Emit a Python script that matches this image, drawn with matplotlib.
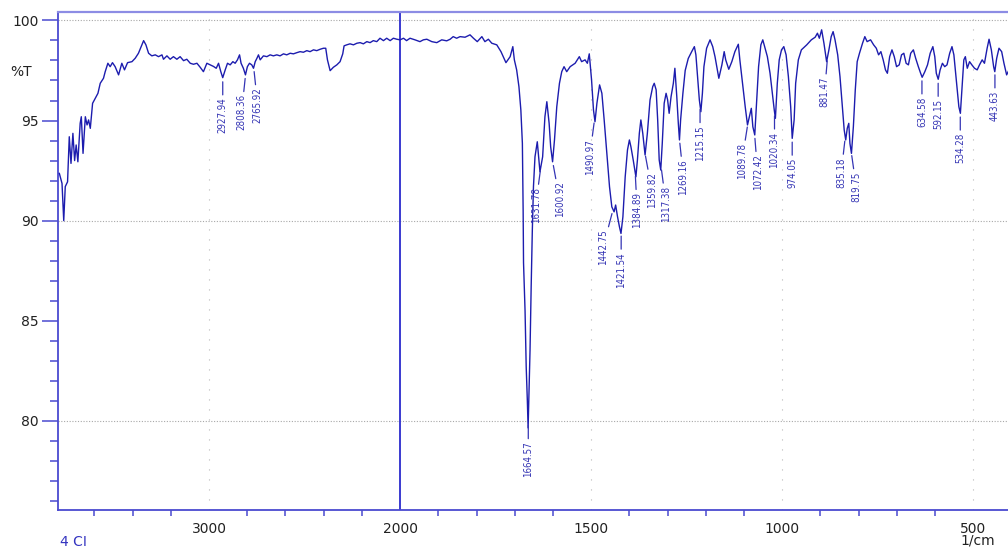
import numpy as np
import matplotlib
matplotlib.use("Agg")
import matplotlib.pyplot as plt

# spectrum: wavenumber (1/cm) and %T
wn = [3783, 3769, 3760, 3752, 3740, 3731, 3722, 3712, 3703, 3695, 3686, 3674, 3668, 3659,
      3647, 3638, 3630, 3621, 3609, 3595, 3581, 3569, 3552, 3543, 3529, 3517, 3505, 3491,
      3473, 3456, 3442, 3426, 3403, 3386, 3369, 3355, 3342, 3330, 3316, 3299, 3281, 3264,
      3246, 3238, 3220, 3203, 3186, 3168, 3151, 3133, 3116, 3098, 3081, 3063, 3046, 3029,
      3011, 2994, 2976, 2962, 2950, 2938, 2928, 2915, 2903, 2889, 2875, 2863, 2851, 2840,
      2832, 2820, 2809, 2799, 2788, 2776, 2767, 2758, 2749, 2741, 2732, 2715, 2697, 2680,
      2663, 2645, 2628, 2610, 2593, 2575, 2558, 2540, 2523, 2506, 2488, 2471, 2453, 2436,
      2418, 2401, 2389, 2380, 2366, 2349, 2331, 2314, 2300, 2293, 2279, 2262, 2244, 2226,
      2209, 2192, 2174, 2157, 2140, 2122, 2105, 2087, 2070, 2052, 2035, 2017, 2000,
      1991, 1983, 1974, 1961, 1948, 1939, 1930, 1917, 1904, 1891, 1878, 1869, 1861, 1852,
      1843, 1830, 1817, 1808, 1798, 1786, 1778, 1769, 1760, 1747, 1736, 1723, 1712, 1705,
      1701, 1695, 1689, 1684, 1680, 1678, 1677, 1673, 1670, 1667, 1665, 1662, 1660, 1657,
      1654, 1651, 1647, 1641, 1634, 1627, 1621, 1616, 1610, 1606, 1601, 1596, 1590, 1583,
      1577, 1571, 1564, 1555, 1542, 1531, 1525, 1516, 1510, 1505, 1499, 1494, 1490, 1485,
      1478, 1472, 1466, 1459, 1452, 1446, 1440, 1436, 1431, 1426, 1422, 1417, 1411, 1405,
      1400, 1396, 1390, 1383, 1379, 1374, 1370, 1365, 1359, 1353, 1346, 1339, 1335, 1330,
      1326, 1322, 1318, 1314, 1309, 1304, 1300, 1296, 1291, 1285, 1281, 1276, 1272, 1269,
      1266, 1260, 1254, 1246, 1237, 1230, 1226, 1221, 1217, 1213, 1209, 1205, 1198, 1189,
      1182, 1176, 1170, 1166, 1158, 1152, 1148, 1140, 1132, 1124, 1115, 1111, 1104, 1097,
      1091, 1086, 1081, 1077, 1072, 1067, 1062, 1056, 1051, 1045, 1039, 1032, 1026, 1021,
      1018, 1013, 1008, 1002, 996, 990, 984, 978, 974, 969, 965, 958, 950, 936, 924, 914,
      908, 903, 897, 891, 884, 878, 872, 867, 862, 855, 849, 842, 838, 834, 830, 826, 823,
      819, 814, 809, 804, 798, 790, 784, 778, 769, 761, 754, 748, 742, 736, 730, 725, 719,
      713, 707, 701, 694, 688, 682, 676, 670, 664, 657, 651, 644, 638, 634, 627, 620, 613,
      606, 601, 597, 592, 587, 581, 575, 569, 562, 556, 551, 544, 538, 534, 530, 525, 521,
      516, 510, 504, 497, 490, 484, 477, 471, 464, 459, 453, 447, 444, 439, 433, 426, 420,
      413, 405]
trans = [92.36, 91.86, 90.0, 91.7, 91.94, 94.19, 92.86, 94.36, 93.0, 93.78, 92.94, 94.86, 95.19, 93.36,
         95.19, 94.78, 95.03, 94.61, 95.86, 96.11, 96.36, 96.86, 97.11, 97.44, 97.86, 97.69, 97.89, 97.69,
         97.28, 97.86, 97.53, 97.89, 97.94, 98.11, 98.36, 98.69, 98.99, 98.78, 98.36, 98.23, 98.28, 98.19,
         98.28, 98.06, 98.23, 98.06, 98.19, 98.06, 98.19, 97.99, 98.06, 97.86, 97.81, 97.86, 97.66, 97.44,
         97.86, 97.78, 97.7, 97.61, 97.86, 97.44, 97.14, 97.53, 97.86, 97.78, 97.94, 97.86, 98.03, 98.28,
         97.86, 97.61, 97.28, 97.69, 97.86, 97.78, 97.61, 97.94, 98.11, 98.28, 98.03, 98.23, 98.19, 98.28,
         98.23, 98.28, 98.23, 98.33, 98.28, 98.36, 98.33, 98.39, 98.44, 98.41, 98.49, 98.44, 98.53, 98.49,
         98.56, 98.61, 98.61, 98.03, 97.49, 97.66, 97.78, 97.94, 98.33, 98.73, 98.78, 98.83, 98.78, 98.86,
         98.89, 98.83, 98.94, 98.89, 98.99, 98.94, 99.11, 98.99, 99.11, 98.99, 99.11, 99.06, 99.03,
         99.11, 98.99, 99.11, 99.03, 98.94, 99.03, 99.06, 98.94, 98.89, 99.03, 98.98, 99.06, 99.19, 99.11,
         99.19, 99.16, 99.28, 99.11, 98.94, 99.19, 98.94, 99.06, 98.86, 98.78, 98.44, 97.89, 98.19, 98.69,
         98.03, 97.53, 96.69, 95.53, 93.86, 90.5, 87.9, 85.5, 82.7, 81.0, 79.65, 81.9, 83.5, 86.7,
         89.5, 91.7, 93.19, 93.94, 92.44, 93.19, 95.19, 95.94, 94.86, 93.69, 92.94, 94.03, 95.69, 96.86,
         97.44, 97.69, 97.44, 97.69, 97.86, 98.19, 97.94, 98.03, 97.86, 98.33, 97.03, 95.53, 94.94, 95.86,
         96.78, 96.36, 95.03, 93.36, 91.69, 90.69, 90.44, 90.78, 90.19, 89.69, 89.36, 90.19, 92.19, 93.53,
         94.03, 93.69, 93.03, 92.19, 93.03, 94.36, 95.03, 94.36, 93.28, 94.36, 96.03, 96.69, 96.86, 96.53,
         95.03, 93.03, 92.53, 93.86, 95.86, 96.36, 96.03, 95.36, 96.19, 96.86, 97.61, 96.19, 94.86, 94.03,
         95.03, 96.36, 97.5, 98.1, 98.44, 98.69, 98.28, 97.03, 96.03, 95.44, 96.36, 97.69, 98.61, 99.03,
         98.69, 98.19, 97.53, 97.11, 97.78, 98.44, 98.03, 97.56, 97.94, 98.44, 98.81, 98.03, 96.86, 95.69,
         94.78, 95.19, 95.61, 94.69, 94.28, 96.03, 97.69, 98.78, 99.03, 98.61, 98.19, 97.36, 96.36, 95.53,
         95.11, 96.86, 98.03, 98.53, 98.69, 98.28, 97.19, 95.69, 94.11, 95.03, 96.86, 98.03, 98.53, 98.78, 99.03, 99.16,
         99.36, 99.11, 99.53, 98.86, 97.94, 98.53, 99.19, 99.44, 99.03, 98.28, 97.19, 95.53, 94.53, 94.03, 94.61, 94.86, 93.86,
         93.36, 94.69, 96.53, 97.94, 98.36, 98.86, 99.19, 98.94, 99.03, 98.78, 98.61, 98.28, 98.44, 98.03, 97.53, 97.36, 98.19,
         98.53, 98.19, 97.69, 97.78, 98.28, 98.36, 97.86, 97.78, 98.36, 98.53, 98.11, 97.69, 97.36, 97.16, 97.44, 97.78, 98.36,
         98.69, 98.19, 97.36, 97.06, 97.53, 97.86, 97.69, 97.78, 98.36, 98.69, 98.28, 96.86, 95.69, 95.36, 96.53, 98.03, 98.19,
         97.61, 97.94, 97.78, 97.61, 97.53, 97.78, 98.03, 97.86, 98.61, 99.06, 98.53, 97.69, 97.44, 98.11, 98.61, 98.44, 97.86,
         97.28, 97.6]

peak_labels = ["2927.94", "2808.36", "2765.92", "1664.57", "1631.78", "1600.92", "1490.97",
               "1442.75", "1421.54", "1384.89", "1359.82", "1317.38", "1269.16", "1215.15",
               "1089.78", "1072.42", "1020.34", "974.05", "881.47", "835.18", "819.75",
               "634.58", "592.15", "534.28", "443.63"]

xtick_vals = [3000, 2000, 1500, 1000, 500]
ytick_vals = [80, 85, 90, 95, 100]

# horizontal nudges of some labels (pixels)
label_dx = {"2808.36": -4, "2765.92": 4, "1631.78": -5, "1600.92": 7, "1490.97": -5,
            "1442.75": -10, "1384.89": 2, "1359.82": 7, "1317.38": 5, "1269.16": 4,
            "1089.78": -6, "1072.42": 3, "881.47": -3, "835.18": -4, "819.75": 5}

blue = "#1c1cae"
axis_blue = "#4a4ad0"
label_blue = "#3434b4"


# above 2000 1/cm the axis is compressed by half
def fwd(x):
    x = np.asarray(x, dtype=float)
    return np.where(x > 2000, 2000 + (x - 2000) * 0.5, x)


def inv(u):
    u = np.asarray(u, dtype=float)
    return np.where(u > 2000, 2000 + (u - 2000) * 2.0, u)


W, H = 1008, 550
fig = plt.figure(figsize=(W / 100, H / 100), dpi=100)
ax = fig.add_axes([58 / W, 1 - 510 / H, 953.6 / W, (510 - 12) / H])
ax.set_xscale("function", functions=(fwd, inv))

wn_a = np.array(wn, dtype=float)
t_a = np.array(trans, dtype=float)
ax.plot(wn_a, t_a, color=blue, lw=1.0, zorder=3)

ax.set_xlim(3790, 400)
ax.set_ylim(75.55, 100.42)

# grid
for y in [100, 90, 80]:
    ax.axhline(y, color="#a8a8a8", lw=0.8, ls=(0, (1, 1.5)), zorder=1)
for x in [3000, 1500, 1000, 500]:
    ax.axvline(x, color="#b8b8b8", lw=0.8, ls=(0, (1, 8)), zorder=1)
ax.axvline(2000, color="#3a3ad0", lw=1.4, zorder=2)

# ticks
ax.set_xticks(xtick_vals)
ax.set_xticklabels([str(v) for v in xtick_vals])
minor_x = [v for v in list(range(3600, 2000, -200)) + list(range(2000, 399, -100))
           if v not in xtick_vals]
ax.set_xticks(minor_x, minor=True)
ax.set_yticks(ytick_vals)
ax.set_yticklabels([str(v) for v in ytick_vals])
ax.set_yticks(np.arange(76, 101, 1), minor=True)

ax.tick_params(axis="x", which="major", length=0, pad=8.5, labelsize=10, labelcolor="#222222")
ax.tick_params(axis="x", which="minor", length=4.3, width=1.1, color=axis_blue, direction="out")
ax.tick_params(axis="y", which="major", length=11.5, width=1.1, color=axis_blue, pad=2.5,
               labelsize=10, labelcolor="#222222")
ax.tick_params(axis="y", which="minor", length=5.8, width=1.1, color=axis_blue)

for side in ["left", "bottom"]:
    ax.spines[side].set_color(axis_blue)
    ax.spines[side].set_linewidth(1.3)
ax.spines["top"].set_color("#8c8ce4")
ax.spines["top"].set_linewidth(1.6)
ax.spines["right"].set_visible(False)

# peak labels
order = np.argsort(wn_a)
for lab in peak_labels:
    p = float(lab)
    tp = np.interp(p, wn_a[order], t_a[order])
    dx = label_dx.get(lab, 0) * 0.72
    ax.annotate(lab, xy=(p, tp), xytext=(dx, -14.4), textcoords="offset points",
                rotation=90, ha="center", va="top", fontsize=7, fontstretch="condensed",
                color=label_blue, family=["Liberation Sans Narrow", "DejaVu Sans"],
                arrowprops=dict(arrowstyle="-", color=label_blue, lw=0.9,
                                shrinkA=0, shrinkB=3), zorder=4)

fig.text(10 / W, 1 - 72 / H, "%T", fontsize=10, va="center", ha="left", color="#222222")
fig.text(60 / W, 1 - 542 / H, "4 CI", fontsize=10, va="center", ha="left", color="#3434c0")
fig.text(960 / W, 1 - 541 / H, "1/cm", fontsize=10, va="center", ha="left", color="#222222")

fig.savefig("out.png", dpi=100)
